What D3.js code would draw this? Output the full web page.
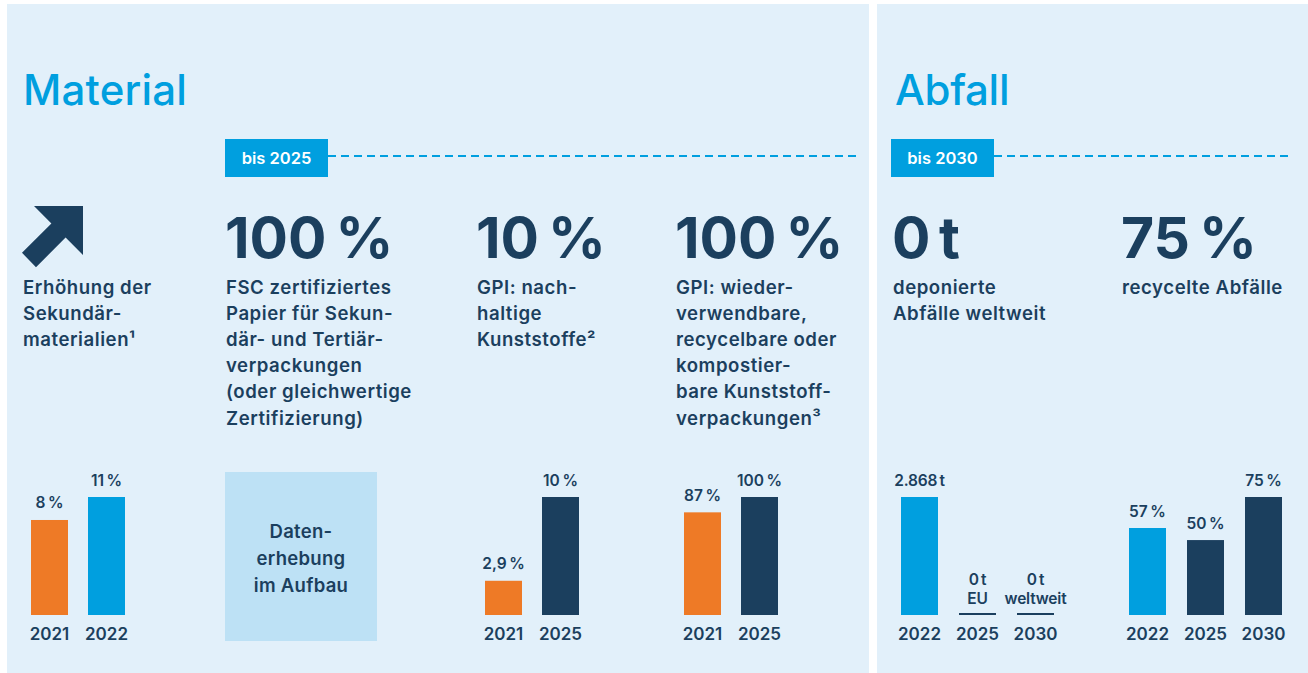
<!DOCTYPE html>
<html>
<head>
<meta charset="utf-8">
<title>Material und Abfall</title>
<script src="https://d3js.org/d3.v7.min.js"></script>
<style>
    body { margin: 0; background: #ffffff; }
    svg { display: block; font-family: Inter, "Noto Sans", sans-serif; }
</style>
</head>
<body>
<svg id="chart" width="1308" height="673"></svg>
<script>
// ---- data ----
const titles = ["Material", "Abfall"]
const badges = ["bis 2025", "bis 2030"]
const headlines = ["", "100\u202f%", "10\u202f%", "100\u202f%", "0 t", "75\u202f%"]
const descriptions = [
    ["Erhöhung der", "Sekundär-", "materialien¹"],
    ["FSC zertifiziertes", "Papier für Sekun-", "där- und Tertiär-", "verpackungen", "(oder gleichwertige", "Zertifizierung)"],
    ["GPI: nach-", "haltige", "Kunststoffe²"],
    ["GPI: wieder-", "verwendbare,", "recycelbare oder", "kompostier-", "bare Kunststoff-", "verpackungen³"],
    ["deponierte", "Abfälle weltweit"],
    ["recycelte Abfälle"]
]
const placeholderText = ["Daten-", "erhebung", "im Aufbau"]

const years1 = ["2021", "2022"]
const values1 = [8, 11]
const labels1 = [["8\u202f%"], ["11\u202f%"]]

const years3 = ["2021", "2025"]
const values3 = [2.9, 10]
const labels3 = [["2,9\u202f%"], ["10\u202f%"]]

const years4 = ["2021", "2025"]
const values4 = [87, 100]
const labels4 = [["87\u202f%"], ["100\u202f%"]]

const years5 = ["2022", "2025", "2030"]
const values5 = [2868, 0, 0]
const labels5 = [["2.868\u202ft"], ["0\u202ft", "EU"], ["0\u202ft", "weltweit"]]

const years6 = ["2022", "2025", "2030"]
const values6 = [57, 50, 75]
const labels6 = [["57\u202f%"], ["50\u202f%"], ["75\u202f%"]]

// ---- styles ----
const navy = "#1b3f5e", cyan = "#009fdf", orange = "#ee7a26"
const panelFill = "#e2f0fa", boxFill = "#bde1f5"
const colX = [23, 226, 477, 676, 893, 1122]
const baseY = 615, topY = 497

const svg = d3.select("#chart")

// panels
svg.append("rect").attr("x", 7).attr("y", 4).attr("width", 862).attr("height", 669).attr("fill", panelFill)
svg.append("rect").attr("x", 877).attr("y", 4).attr("width", 431).attr("height", 669).attr("fill", panelFill)

// titles
svg.selectAll("text.title").data(titles).enter().append("text")
    .attr("class", "title")
    .attr("x", (d, i) => [23, 895][i]).attr("y", 105)
    .attr("fill", cyan).style("font-size", "42px").style("font-weight", 500)
    .style("letter-spacing", (d, i) => i === 0 ? "0.2px" : "-0.3px")
    .text(d => d)

// badges + dashed lines
const badgeX = [225, 891]
const lineEnd = [856, 1293]
badges.forEach((b, i) => {
    svg.append("rect").attr("x", badgeX[i]).attr("y", 139).attr("width", 103).attr("height", 38).attr("fill", cyan)
    svg.append("text").attr("x", badgeX[i] + 51.5).attr("y", 164)
        .attr("text-anchor", "middle").attr("fill", "#fff")
        .style("font-size", "16.5px").style("font-weight", 600)
        .text(b)
    svg.append("line")
        .attr("x1", badgeX[i] + 103).attr("x2", lineEnd[i])
        .attr("y1", 156).attr("y2", 156)
        .attr("stroke", cyan).attr("stroke-width", 2)
        .attr("stroke-dasharray", "8 5")
})

// arrow
svg.append("polygon")
    .attr("points", "34,206 83,206 83,255 65.6,237.6 36,267.2 22,252.8 51.4,223.4")
    .attr("fill", navy)

// big numbers
svg.selectAll("text.big").data(headlines).enter().append("text")
    .attr("class", "big")
    .attr("x", (d, i) => colX[i] - 1).attr("y", 258)
    .attr("fill", navy).style("font-size", "57px").style("font-weight", 700)
    .style("letter-spacing", "-2.5px")
    .text(d => d)

// descriptions
descriptions.forEach((lines, i) => {
    svg.append("text")
        .attr("x", colX[i]).attr("y", 294)
        .attr("fill", navy).style("font-size", "18.6px").style("font-weight", 600)
        .style("letter-spacing", "0.55px")
        .selectAll("tspan").data(lines).enter().append("tspan")
        .attr("x", colX[i]).attr("dy", (d, j) => j === 0 ? 0 : 26.1)
        .text(d => d)
})

// placeholder box
svg.append("rect").attr("x", 225).attr("y", 472).attr("width", 152).attr("height", 169).attr("fill", boxFill)
svg.append("text").attr("x", 301).attr("y", 538)
    .attr("fill", navy).attr("text-anchor", "middle")
    .style("font-size", "18.5px").style("font-weight", 600)
    .style("letter-spacing", "0.3px")
    .selectAll("tspan").data(placeholderText).enter().append("tspan")
    .attr("x", 301).attr("dy", (d, j) => j === 0 ? 0 : 27)
    .text(d => d)

// bar charts
const charts = [
    { years: years1, values: values1, labels: labels1, colors: [orange, cyan], x0: 49.5, x1: 106.5, floor: -4.4 },
    { years: years3, values: values3, labels: labels3, colors: [orange, navy], x0: 503.5, x1: 560.5, floor: 0 },
    { years: years4, values: values4, labels: labels4, colors: [orange, navy], x0: 702.5, x1: 759.5, floor: 0 },
    { years: years5, values: values5, labels: labels5, colors: [cyan, navy, navy], x0: 919.5, x1: 1035.5, floor: 0 },
    { years: years6, values: values6, labels: labels6, colors: [cyan, navy, navy], x0: 1147.5, x1: 1263.5, floor: 6.5 }
]
const barW = 37

charts.forEach(c => {
    const x = d3.scalePoint().domain(c.years).range([c.x0, c.x1])
    const y = d3.scaleLinear().domain([c.floor, d3.max(c.values)]).range([baseY, topY])
    const rows = c.years.map((yr, i) => ({ year: yr, value: c.values[i], label: c.labels[i], color: c.colors[i] }))
    const g = svg.append("g")

    g.selectAll("rect").data(rows).enter().append("rect")
        .attr("x", d => x(d.year) - barW / 2)
        .attr("y", d => d.value === 0 ? baseY - 2 : y(d.value))
        .attr("width", barW)
        .attr("height", d => d.value === 0 ? 2 : baseY - y(d.value))
        .attr("fill", d => d.color)

    g.selectAll("text.val").data(rows).enter().append("text")
        .attr("class", "val")
        .attr("x", d => x(d.year))
        .attr("y", d => (d.value === 0 ? baseY : y(d.value)) - 11.5 - (d.label.length - 1) * 19)
        .attr("text-anchor", "middle").attr("fill", navy)
        .style("font-size", "15.5px").style("font-weight", 600)
        .style("letter-spacing", "-0.2px")
        .selectAll("tspan").data(d => d.label.map(t => ({ t, cx: x(d.year) }))).enter().append("tspan")
        .attr("x", t => t.cx).attr("dy", (t, j) => j === 0 ? 0 : 19)
        .text(t => t.t)

    g.selectAll("text.year").data(rows).enter().append("text")
        .attr("class", "year")
        .attr("x", d => x(d.year)).attr("y", 640)
        .attr("text-anchor", "middle").attr("fill", navy)
        .style("font-size", "17px").style("font-weight", 600)
        .text(d => d.year)
})
</script>
</body>
</html>
